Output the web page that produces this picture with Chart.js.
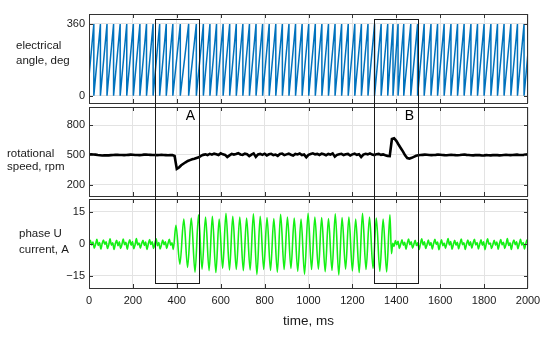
<!DOCTYPE html>
<html>
<head>
<meta charset="utf-8">
<script src="https://cdn.jsdelivr.net/npm/chart.js@4/dist/chart.umd.min.js"></script>
<style>
    html, body { margin: 0; padding: 0; background: #fff; }
    #wrap { position: relative; width: 550px; height: 340px; }
    #wrap canvas { position: absolute; left: 0; top: 0; }
</style>
</head>
<body>
<div id="wrap">
    <canvas id="anglePanel" width="550" height="340"></canvas>
    <canvas id="speedPanel" width="550" height="340"></canvas>
    <canvas id="currentPanel" width="550" height="340"></canvas>
</div>
<script>
// ---- data ----
const timeTicks = [0, 200, 400, 600, 800, 1000, 1200, 1400, 1600, 1800, 2000];
const angleTicks = [0, 360];
const speedTicks = [200, 500, 800];
const currentTicks = [-15, 0, 15];

// electrical angle: times (ms) where the angle wraps from 360 back to 0
const angleStart = 96;   // deg at t = 0
const angleEnd = 216;    // deg at t = 2000
const angleWrapTimes = [
    22, 52, 82, 112, 142, 172, 202, 232, 262, 292, 322, 352, 382, 416, 454, 489,
    521, 551, 581, 611, 641, 671, 701, 731, 761, 791, 821, 851, 881, 911, 941, 971,
    1001, 1031, 1061, 1091, 1121, 1151, 1181, 1211, 1241, 1271, 1301, 1331, 1361,
    1385, 1408, 1434, 1466, 1497, 1527, 1558, 1588, 1618, 1649, 1679, 1709, 1740,
    1770, 1800, 1831, 1861, 1891, 1922, 1952, 1982
];

// rotational speed, rpm, sampled every 10 ms from 0 to 2000
const speedStepMs = 10;
const speedRpm = [
    503, 505, 504, 502, 498, 496, 494, 495, 496, 495,
    497, 499, 500, 501, 499, 498, 497, 498, 500, 502,
    501, 499, 498, 497, 499, 502, 503, 501, 500, 499,
    498, 497, 499, 500, 498, 497, 496, 498, 497,
    488, 358, 372, 395, 410, 425, 438, 447, 455, 460, 468, 475, 490, 500,
    505, 498, 510, 502, 512, 506, 498, 515, 505, 500,
    478, 495, 510, 503, 508, 517, 504, 499, 512, 506,
    488, 503, 515, 480, 505, 510, 500, 512, 495, 506,
    511, 498, 503, 490, 508, 513, 497, 505, 512, 501,
    494, 509, 504, 514, 498, 503, 476, 500, 508, 515,
    505, 510, 499, 512, 506, 496, 509, 503, 515, 482,
    500, 507, 511, 498, 506, 510, 494, 505, 512, 500,
    507, 478, 502, 511, 505, 515, 503, 498, 507, 510,
    500, 505, 496, 490,
    488, 660, 668, 642, 605, 570, 535, 495, 468, 462, 470, 480, 490, 496,
    498, 500, 502, 501, 499, 497, 498, 500, 503, 501,
    499, 497, 496, 498, 500, 499, 497, 496, 498, 501,
    503, 500, 498, 496, 495, 497, 499, 497, 494, 495,
    497, 496, 495, 497, 498, 497, 495, 496, 498, 500,
    499, 497, 498, 500, 502, 499, 498, 500, 503, 505
];

// phase U current, A: ripple before the burst
const rippleBeforeT = [
    0, 6, 12, 18, 24, 30, 36, 42, 48, 54, 60, 66, 72, 78, 84, 90, 96, 102, 108, 114,
    120, 126, 132, 138, 144, 150, 156, 162, 168, 174, 180, 186, 192, 198, 204, 210,
    216, 222, 228, 234, 240, 246, 252, 258, 264, 270, 276, 282, 288, 294, 300, 306,
    312, 318, 324, 330, 336, 342, 348, 354, 360, 366, 372, 378, 384
];
const rippleBeforeA = [
    -0.4, 1.6, -0.5, 0.8, -2.0,  -0.2, 2.1, -0.8, 0.6, -2.4,  0.1, 1.8, -0.3, 1.0, -2.2,
    -0.5, 2.3, -0.6, 0.5, -2.6,  0.0, 1.7, -0.9, 0.9, -2.1,  -0.3, 2.2, -0.4, 0.7, -2.5,
    0.2, 1.9, -0.7, 1.1, -2.3,  -0.4, 2.4, -0.5, 0.4, -2.0,  0.1, 1.6, -0.8, 0.8, -2.6,
    -0.2, 2.0, -0.3, 1.0, -2.2,  0.0, 2.3, -0.9, 0.6, -2.4,  -0.5, 1.8, -0.4, 0.9, -2.1,
    0.2, 2.1, -0.6, 0.5, -2.6
];
// peaks and troughs of the large oscillation
const burstT = [
    396, 414, 432, 449, 466, 483, 499, 515, 531, 547,
    562, 578, 593, 609, 624, 640, 655, 671, 687, 703,
    718, 734, 749, 765, 780, 796, 811, 827, 842, 858,
    873, 889, 904, 920, 935, 951, 966, 982, 998, 1014,
    1029, 1045, 1060, 1076, 1091, 1107, 1122, 1138, 1153, 1169,
    1184, 1200, 1215, 1231, 1246, 1262, 1278, 1294, 1309, 1325,
    1340, 1356, 1371
];
const burstA = [
    8.6, -9.5, 11.5, -11.0, 12.0, -13.2, 13.5, -11.8, 12.5, -12.5,
    12.8, -13.4, 11.5, -11.4, 14.2, -12.2, 12.8, -11.9, 12.5, -12.5,
    12.0, -12.2, 14.0, -14.3, 12.8, -11.9, 12.2, -12.4, 11.8, -13.2,
    13.8, -12.0, 12.5, -11.5, 12.0, -12.8, 11.5, -14.2, 14.2, -12.0,
    12.5, -11.8, 12.2, -13.0, 11.8, -12.4, 14.0, -14.5, 12.2, -11.8,
    12.5, -12.6, 11.5, -13.4, 14.2, -12.0, 12.5, -11.5, 12.0, -12.8,
    11.5, -13.1, 13.5
];
// ripple after the burst
const rippleAfterT = [
    1378, 1384, 1390, 1396, 1402, 1408, 1414, 1420, 1426, 1432, 1438, 1444, 1450, 1456,
    1462, 1468, 1474, 1480, 1486, 1492, 1498, 1504, 1510, 1516, 1522, 1528, 1534, 1540,
    1546, 1552, 1558, 1564, 1570, 1576, 1582, 1588, 1594, 1600, 1606, 1612, 1618, 1624,
    1630, 1636, 1642, 1648, 1654, 1660, 1666, 1672, 1678, 1684, 1690, 1696, 1702, 1708,
    1714, 1720, 1726, 1732, 1738, 1744, 1750, 1756, 1762, 1768, 1774, 1780, 1786, 1792,
    1798, 1804, 1810, 1816, 1822, 1828, 1834, 1840, 1846, 1852, 1858, 1864, 1870, 1876,
    1882, 1888, 1894, 1900, 1906, 1912, 1918, 1924, 1930, 1936, 1942, 1948, 1954, 1960,
    1966, 1972, 1978, 1984, 1990, 1996, 2000
];
const rippleAfterA = [
    -4.6,
    0.3, -1.2, 1.5, -0.4, 1.2,
    -2.2, -0.1, 1.9, -0.6, 0.7,  -2.5, 0.2, 2.2, -0.4, 0.9,  -2.0, -0.3, 1.7, -0.8, 0.5,
    -2.6, 0.0, 2.3, -0.5, 1.0,  -2.2, -0.4, 1.8, -0.7, 0.6,  -2.4, 0.1, 2.1, -0.3, 0.8,
    -2.7, -0.2, 1.9, -0.9, 0.4,  -2.1, 0.2, 2.4, -0.5, 1.1,  -2.5, -0.3, 1.6, -0.6, 0.7,
    -2.3, 0.0, 2.2, -0.4, 0.5,  -2.6, -0.1, 1.8, -0.8, 0.9,  -2.0, 0.3, 2.1, -0.5, 0.6,
    -2.4, -0.2, 1.9, -0.7, 1.0,  -2.7, 0.1, 2.3, -0.3, 0.4,  -2.2, -0.4, 1.7, -0.6, 0.8,
    -2.5, 0.0, 2.0, -0.5, 0.7,  -2.1, -0.2, 2.4, -0.8, 0.5,  -2.6, 0.2, 1.8, -0.4, 0.9,
    -2.3, -0.1, 2.1, -0.6, 0.6,
    -2.4, 0.1, 1.9,
    0.4
];

// marked zones A and B
const zoneLabels = ['A', 'B'];
const zoneStart = [300, 1300];
const zoneEnd = [500, 1500];

// ---- styling / layout ----
const FONT = "'Liberation Sans', Arial, sans-serif";
const TEXT = '#1a1a1a';
const GRID = '#e3e3e3';
const FRAME = '#333333';
const PLOT_LEFT = 89;
const PLOT_RIGHT = 528;
const panelTop = [14, 107, 199];
const panelBottom = [103, 196, 288];

const zip = (xs, ys) => xs.map((x, i) => ({x: x, y: ys[i]}));

function anglePoints() {
    const pts = [{x: 0, y: angleStart}];
    angleWrapTimes.forEach(t => {
        pts.push({x: t, y: 360});
        pts.push({x: t, y: 0});
    });
    pts.push({x: 2000, y: angleEnd});
    return pts;
}

// frame with inward tick marks, like the original plot
const framePlugin = {
    id: 'frame',
    afterDraw(chart) {
        const {ctx, chartArea: a, scales} = chart;
        ctx.save();
        ctx.strokeStyle = FRAME;
        ctx.lineWidth = 1;
        ctx.strokeRect(a.left + 0.5, a.top + 0.5, a.right - a.left - 1, a.bottom - a.top);
        ctx.beginPath();
        scales.x.ticks.forEach(t => {
            if (t.value <= 0 || t.value >= 2000) return;
            const px = Math.round(scales.x.getPixelForValue(t.value)) + 0.5;
            ctx.moveTo(px, a.top); ctx.lineTo(px, a.top + 4);
            ctx.moveTo(px, a.bottom); ctx.lineTo(px, a.bottom - 4);
        });
        scales.y.ticks.forEach(t => {
            const py = Math.round(scales.y.getPixelForValue(t.value)) + 0.5;
            ctx.moveTo(a.left, py); ctx.lineTo(a.left + 4, py);
            ctx.moveTo(a.right, py); ctx.lineTo(a.right - 4, py);
        });
        ctx.stroke();
        ctx.restore();
    }
};

// horizontal two-line y label at the left
const sideTitlePlugin = {
    id: 'sideTitle',
    afterDraw(chart, args, opts) {
        const ctx = chart.ctx;
        ctx.save();
        ctx.fillStyle = TEXT;
        ctx.font = '11.5px ' + FONT;
        ctx.textAlign = 'left';
        ctx.textBaseline = 'middle';
        opts.lines.forEach((line, i) => ctx.fillText(line, opts.x, opts.y[i]));
        ctx.restore();
    }
};

// boxes A and B spanning all three panels
const zonePlugin = {
    id: 'zones',
    afterDraw(chart, args, opts) {
        const {ctx} = chart;
        const xs = chart.scales.x;
        ctx.save();
        ctx.strokeStyle = '#1a1a1a';
        ctx.lineWidth = 1;
        ctx.fillStyle = '#000';
        ctx.font = '14px ' + FONT;
        ctx.textAlign = 'center';
        ctx.textBaseline = 'middle';
        zoneStart.forEach((s, i) => {
            const x0 = Math.round(xs.getPixelForValue(s)) + 0.5;
            const x1 = Math.round(xs.getPixelForValue(zoneEnd[i])) + 0.5;
            ctx.strokeRect(x0, opts.top + 0.5, x1 - x0, opts.bottom - opts.top);
            ctx.fillText(zoneLabels[i], x1 - 9, opts.labelY);
        });
        ctx.restore();
    }
};

function makePanel(id, idx, dataset, yMin, yMax, yTicks, title, showX, extraPlugins, extraOpts) {
    const fmt = v => (v < 0 ? '\u2212' + Math.abs(v) : String(v));
    return new Chart(document.getElementById(id), {
        type: 'line',
        data: {datasets: [dataset]},
        options: {
            responsive: false,
            animation: false,
            devicePixelRatio: 1,
            events: [],
            layout: {
                padding: {left: 0, right: 550 - PLOT_RIGHT, top: panelTop[idx], bottom: showX ? 0 : 340 - panelBottom[idx]}
            },
            elements: {point: {radius: 0}},
            scales: {
                x: {
                    type: 'linear',
                    min: 0,
                    max: 2000,
                    afterBuildTicks: s => { s.ticks = timeTicks.map(v => ({value: v})); },
                    afterFit: s => { s.height = showX ? 340 - panelBottom[idx] : 0; },
                    grid: {color: GRID, drawTicks: false},
                    border: {display: false},
                    ticks: {
                        display: showX,
                        padding: 6,
                        color: TEXT,
                        font: {family: FONT, size: 11},
                        callback: v => String(v)
                    },
                    title: {
                        display: showX,
                        text: 'time, ms',
                        color: TEXT,
                        font: {family: FONT, size: 13.5},
                        padding: {top: 0, bottom: 11}
                    }
                },
                y: {
                    min: yMin,
                    max: yMax,
                    afterBuildTicks: s => { s.ticks = yTicks.map(v => ({value: v})); },
                    afterFit: s => { s.width = PLOT_LEFT; },
                    grid: {color: GRID, drawTicks: false},
                    border: {display: false},
                    ticks: {padding: 4, color: TEXT, font: {family: FONT, size: 11}, callback: v => fmt(v)}
                }
            },
            plugins: Object.assign({
                legend: {display: false},
                tooltip: {enabled: false},
                sideTitle: title
            }, extraOpts || {})
        },
        plugins: [framePlugin, sideTitlePlugin].concat(extraPlugins || [])
    });
}

const angleChart = makePanel('anglePanel', 0, {
    data: anglePoints(),
    borderColor: '#0072bd',
    borderWidth: 1.5,
    tension: 0
}, -37, 410, angleTicks, {lines: ['electrical', 'angle, deg'], x: 16, y: [46, 61]}, false);

const speedChart = makePanel('speedPanel', 1, {
    data: speedRpm.map((v, i) => ({x: i * speedStepMs, y: v})),
    borderColor: '#000000',
    borderWidth: 2.6,
    tension: 0
}, 84, 984, speedTicks, {lines: ['rotational', 'speed, rpm'], x: 7, y: [154, 167]}, false);

const currentChart = makePanel('currentPanel', 2, {
    data: zip(rippleBeforeT, rippleBeforeA)
        .concat(zip(burstT, burstA))
        .concat(zip(rippleAfterT, rippleAfterA)),
    borderColor: '#14f014',
    borderWidth: 1.6,
    cubicInterpolationMode: 'monotone'
}, -20.6, 20.9, currentTicks, {lines: ['phase U', 'current, A'], x: 19, y: [234, 250]}, true,
    [zonePlugin], {zones: {top: 19, bottom: 283, labelY: 116}});
</script>
</body>
</html>
